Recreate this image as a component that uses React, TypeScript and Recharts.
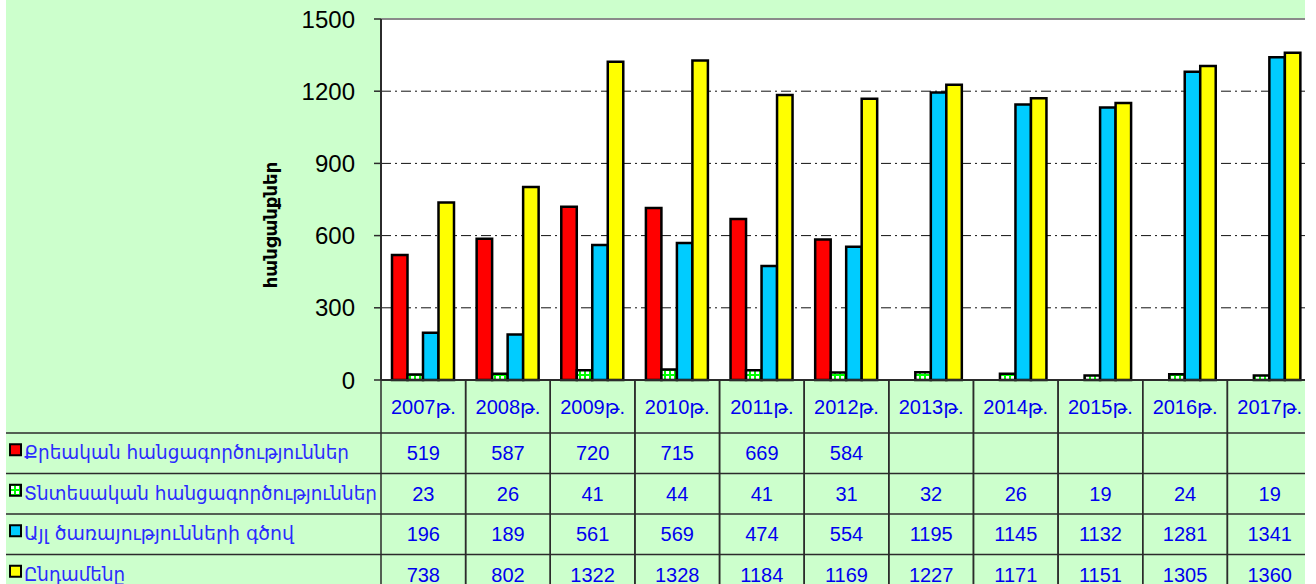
import React from "react";
import {
  BarChart,
  Bar,
  XAxis,
  YAxis,
  CartesianGrid,
  ReferenceLine,
} from "recharts";

// categories
const YEARS = [
  "2007թ.",
  "2008թ.",
  "2009թ.",
  "2010թ.",
  "2011թ.",
  "2012թ.",
  "2013թ.",
  "2014թ.",
  "2015թ.",
  "2016թ.",
  "2017թ.",
];

// series values (null = empty cell)
const CRIMINAL = [519, 587, 720, 715, 669, 584, null, null, null, null, null];
const ECONOMIC = [23, 26, 41, 44, 41, 31, 32, 26, 19, 24, 19];
const OTHER = [196, 189, 561, 569, 474, 554, 1195, 1145, 1132, 1281, 1341];
const TOTAL = [738, 802, 1322, 1328, 1184, 1169, 1227, 1171, 1151, 1305, 1360];

const SERIES_NAMES = [
  "Քրեական հանցագործություններ",
  "Տնտեսական հանցագործություններ",
  "Այլ ծառայությունների գծով",
  "Ընդամենը",
];

const Y_TICKS = [0, 300, 600, 900, 1200, 1500];
const Y_TITLE = "հանցանքներ";

// layout
const TOP = 19;
const AXIS_W = 381;
const PLOT_W = 931;
const CHART_H = 584;
const TABLE_H = 204;
const HEADER_H = 53;
const ROW_H = 40.5;
const BAND = PLOT_W / YEARS.length;
const CLIP_W = 1305;

const TEXT_BLUE = "#0000f0";
const LINE = "#2b2b2b";
const NUM_FONT = "'Liberation Sans', Arial, 'DejaVu Sans', sans-serif";

const data = YEARS.map((year, i) => ({
  year,
  criminal: CRIMINAL[i],
  economic: ECONOMIC[i],
  other: OTHER[i],
  total: TOTAL[i],
}));

const legendWidths = [325, 353, 270, 101];

function PatternDef({ id }: { id: string }) {
  return (
    <pattern id={id} width={5} height={5} patternUnits="userSpaceOnUse">
      <rect width={5} height={5} fill="#00ff00" />
      <rect x={1} y={1} width={3} height={3} fill="#ffffff" />
    </pattern>
  );
}

const SERIES_FILLS = ["#ff0000", "url(#econLegend)", "#00ccff", "#ffff00"];

function TableTick(props: any) {
  const { x, y, payload } = props;
  const index = YEARS.indexOf(payload.value);
  const l = x - BAND / 2;
  const r = x + BAND / 2;
  const bottom = y + TABLE_H;
  const vals = [CRIMINAL[index], ECONOMIC[index], OTHER[index], TOTAL[index]];
  return (
    <g>
      <line x1={l} y1={y} x2={l} y2={bottom} stroke={LINE} strokeWidth={1.5} />
      <line x1={r} y1={y} x2={r} y2={bottom} stroke={LINE} strokeWidth={1.5} />
      <text
        x={x}
        y={y + HEADER_H / 2 + 7}
        textAnchor="middle"
        fill={TEXT_BLUE}
        fontSize={20}
        fontFamily={NUM_FONT}
      >
        {payload.value}
      </text>
      {vals.map((v, i) => {
        const top = y + HEADER_H + i * ROW_H;
        return (
          <g key={i}>
            <line x1={l} y1={top} x2={r} y2={top} stroke={LINE} strokeWidth={1.5} />
            {v != null && (
              <text
                x={x}
                y={top + ROW_H / 2 + 7}
                textAnchor="middle"
                fill={TEXT_BLUE}
                fontSize={20}
                fontFamily={NUM_FONT}
              >
                {v}
              </text>
            )}
          </g>
        );
      })}
    </g>
  );
}

function LegendColumn() {
  const tableTop = CHART_H - TABLE_H;
  return (
    <svg
      width={AXIS_W}
      height={CHART_H}
      style={{ position: "absolute", left: 0, top: 0, pointerEvents: "none" }}
    >
      <defs>
        <PatternDef id="econLegend" />
      </defs>
      <text
        transform={`translate(270, 225) rotate(-90)`}
        textAnchor="middle"
        dominantBaseline="central"
        fontSize={18}
        fontWeight="bold"
        fontFamily="'DejaVu Sans', sans-serif"
        fill="#000"
      >
        {Y_TITLE}
      </text>
      {SERIES_NAMES.map((name, i) => {
        const top = tableTop + HEADER_H + i * ROW_H;
        const mid = top + ROW_H / 2;
        return (
          <g key={name}>
            <line x1={6} y1={top} x2={AXIS_W} y2={top} stroke={LINE} strokeWidth={1.5} />
            <rect
              x={10}
              y={mid - 9}
              width={11}
              height={11}
              fill={SERIES_FILLS[i]}
              stroke="#000"
              strokeWidth={2}
            />
            <text
              x={24}
              y={mid + 6}
              fontSize={20}
              fontFamily="'DejaVu Sans', sans-serif"
              fill="#2a2aff"
              textLength={legendWidths[i]}
              lengthAdjust="spacingAndGlyphs"
            >
              {name}
            </text>
          </g>
        );
      })}
    </svg>
  );
}

export default function App() {
  return (
    <div
      style={{
        position: "absolute",
        left: 0,
        top: 0,
        width: CLIP_W,
        height: CHART_H,
        overflow: "hidden",
        background: "#ffffff",
      }}
    >
      <div
        style={{
          position: "absolute",
          left: 6,
          top: 0,
          right: 0,
          bottom: 0,
          background: "#ccffcc",
        }}
      />
      <div style={{ position: "absolute", left: 0, top: 0 }}>
        <BarChart
          width={AXIS_W + PLOT_W}
          height={CHART_H}
          data={data}
          margin={{ top: TOP, right: 0, bottom: 0, left: 0 }}
          barGap={0}
          barSize={15.5}
        >
          <defs>
            <PatternDef id="econBar" />
          </defs>
          <CartesianGrid
            fill="#ffffff"
            vertical={false}
            stroke="#111"
            strokeDasharray="10 4 2 4"
          />
          <XAxis
            dataKey="year"
            height={TABLE_H}
            interval={0}
            tickSize={0}
            tickMargin={0}
            tickLine={false}
            axisLine={{ stroke: LINE, strokeWidth: 2 }}
            tick={<TableTick />}
          />
          <YAxis
            width={AXIS_W}
            domain={[0, 1500]}
            ticks={Y_TICKS}
            interval={0}
            tickSize={7}
            tickMargin={19}
            axisLine={{ stroke: LINE, strokeWidth: 2 }}
            tickLine={{ stroke: LINE, strokeWidth: 1.5 }}
            tick={{ fontSize: 24, fill: "#000", fontFamily: NUM_FONT }}
          />
          <ReferenceLine y={1500} stroke="#8a8a8a" strokeWidth={2} />
          <Bar dataKey="criminal" fill="#ff0000" stroke="#000" strokeWidth={2.5} isAnimationActive={false} />
          <Bar dataKey="economic" fill="url(#econBar)" stroke="#000" strokeWidth={2.5} isAnimationActive={false} />
          <Bar dataKey="other" fill="#00ccff" stroke="#000" strokeWidth={2.5} isAnimationActive={false} />
          <Bar dataKey="total" fill="#ffff00" stroke="#000" strokeWidth={2.5} isAnimationActive={false} />
        </BarChart>
      </div>
      <LegendColumn />
    </div>
  );
}
